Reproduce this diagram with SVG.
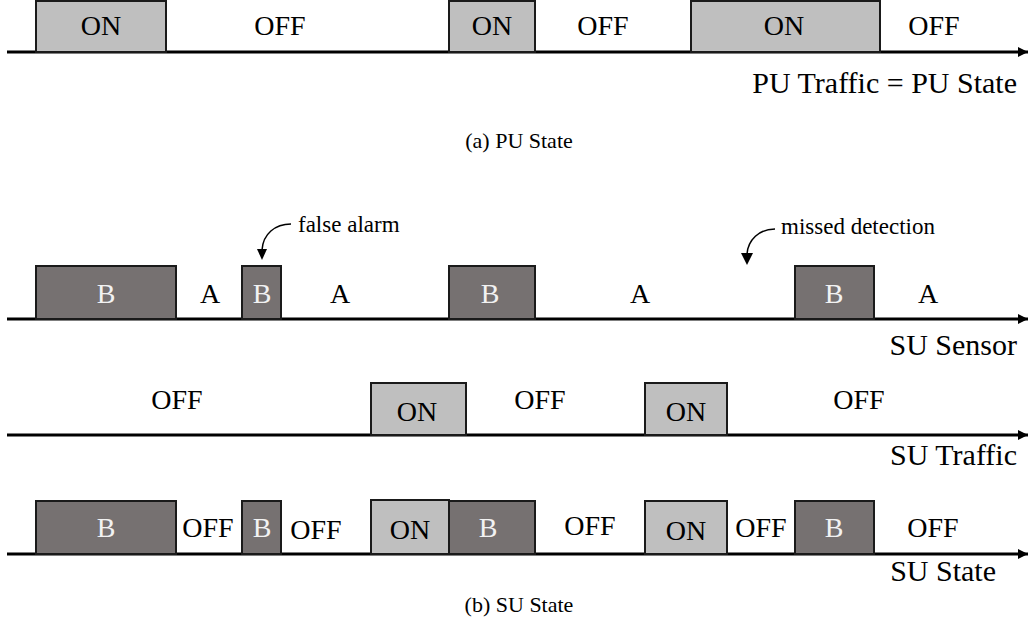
<svg xmlns="http://www.w3.org/2000/svg" width="1036" height="634" viewBox="0 0 1036 634" font-family="Liberation Serif">
<defs>
<style>
.axis{stroke:#000;stroke-width:3;fill:none}
.on{fill:#bfbfbf;stroke:#1a1a1a;stroke-width:2}
.b{fill:#767171;stroke:#1a1a1a;stroke-width:2}
.lbl{font-size:28px;fill:#000;text-anchor:middle}
.lw{font-size:28px;fill:#f2f2f2;text-anchor:middle}
.name{font-size:30px;fill:#000;text-anchor:end}
.cap{font-size:22px;fill:#000;text-anchor:middle}
.note{font-size:23px;fill:#000}
.curve{stroke:#000;stroke-width:1.5;fill:none}
</style>
<marker id="ah" viewBox="0 0 10 10" refX="10" refY="5" markerWidth="10" markerHeight="10" markerUnits="userSpaceOnUse" orient="auto">
<path d="M0,0 L10,5 L0,10 Z" fill="#000"/>
</marker>
</defs>
<rect width="1036" height="634" fill="#fff"/>

<g id="connectors">
<line class="axis" x1="7" y1="52" x2="1028" y2="52" marker-end="url(#ah)"/>
<line class="axis" x1="7" y1="319" x2="1028" y2="319" marker-end="url(#ah)"/>
<line class="axis" x1="7" y1="435" x2="1028" y2="435" marker-end="url(#ah)"/>
<line class="axis" x1="7" y1="554" x2="1028" y2="554" marker-end="url(#ah)"/>
<path class="curve" d="M291,224 C275,224 263,234 262,250"/>
<path d="M257,249 L267,249 L262,260 Z" fill="#000"/>
<path class="curve" d="M775,229 C759,229 748,240 747,254"/>
<path d="M741,253 L753,253 L747,265 Z" fill="#000"/>
</g>

<g id="pu-state" font-family="Liberation Serif">
<rect class="on" x="36" y="1" width="130" height="51"/>
<rect class="on" x="449" y="1" width="86" height="51"/>
<rect class="on" x="691" y="1" width="189" height="51"/>
<text class="lbl" x="101" y="35" font-family="Liberation Serif" style="font-family:'Liberation Serif'">ON</text>
<text class="lbl" x="280" y="35" font-family="Liberation Serif" style="font-family:'Liberation Serif'">OFF</text>
<text class="lbl" x="492" y="35" font-family="Liberation Serif" style="font-family:'Liberation Serif'">ON</text>
<text class="lbl" x="603" y="35" font-family="Liberation Serif" style="font-family:'Liberation Serif'">OFF</text>
<text class="lbl" x="784" y="35" font-family="Liberation Serif" style="font-family:'Liberation Serif'">ON</text>
<text class="lbl" x="934" y="35" font-family="Liberation Serif" style="font-family:'Liberation Serif'">OFF</text>
<text class="name" x="1017" y="93" font-family="Liberation Serif" style="font-family:'Liberation Serif'">PU Traffic = PU State</text>
<text class="cap" x="519" y="148" font-family="Liberation Serif" style="font-family:'Liberation Serif'">(a) PU State</text>
</g>

<g id="su-sensor" font-family="Liberation Serif">
<rect class="b" x="36" y="266" width="140" height="53"/>
<rect class="b" x="242" y="266" width="39" height="53"/>
<rect class="b" x="449" y="266" width="86" height="53"/>
<rect class="b" x="795" y="266" width="79" height="53"/>
<text class="lw" x="106" y="303" font-family="Liberation Serif" style="font-family:'Liberation Serif'">B</text>
<text class="lbl" x="210" y="303" font-family="Liberation Serif" style="font-family:'Liberation Serif'">A</text>
<text class="lw" x="262" y="303" font-family="Liberation Serif" style="font-family:'Liberation Serif'">B</text>
<text class="lbl" x="340" y="303" font-family="Liberation Serif" style="font-family:'Liberation Serif'">A</text>
<text class="lw" x="490" y="303" font-family="Liberation Serif" style="font-family:'Liberation Serif'">B</text>
<text class="lbl" x="640" y="303" font-family="Liberation Serif" style="font-family:'Liberation Serif'">A</text>
<text class="lw" x="834" y="303" font-family="Liberation Serif" style="font-family:'Liberation Serif'">B</text>
<text class="lbl" x="928" y="303" font-family="Liberation Serif" style="font-family:'Liberation Serif'">A</text>
<text class="name" x="1017" y="355" font-family="Liberation Serif" style="font-family:'Liberation Serif'">SU Sensor</text>
</g>

<g id="false-alarm" font-family="Liberation Serif">
<text class="note" x="298" y="232" font-family="Liberation Serif" style="font-family:'Liberation Serif'">false alarm</text>
</g>
<g id="missed-detection" font-family="Liberation Serif">
<text class="note" x="781" y="234" font-family="Liberation Serif" style="font-family:'Liberation Serif'">missed detection</text>
</g>

<g id="su-traffic" font-family="Liberation Serif">
<rect class="on" x="371" y="383" width="95" height="52"/>
<rect class="on" x="645" y="383" width="82" height="52"/>
<text class="lbl" x="177" y="409" font-family="Liberation Serif" style="font-family:'Liberation Serif'">OFF</text>
<text class="lbl" x="417" y="421" font-family="Liberation Serif" style="font-family:'Liberation Serif'">ON</text>
<text class="lbl" x="540" y="409" font-family="Liberation Serif" style="font-family:'Liberation Serif'">OFF</text>
<text class="lbl" x="686" y="421" font-family="Liberation Serif" style="font-family:'Liberation Serif'">ON</text>
<text class="lbl" x="859" y="409" font-family="Liberation Serif" style="font-family:'Liberation Serif'">OFF</text>
<text class="name" x="1017" y="465" font-family="Liberation Serif" style="font-family:'Liberation Serif'">SU Traffic</text>
</g>

<g id="su-state" font-family="Liberation Serif">
<rect class="b" x="36" y="501" width="140" height="53"/>
<rect class="b" x="242" y="501" width="39" height="53"/>
<rect class="on" x="371" y="500" width="78" height="54"/>
<rect class="b" x="449" y="501" width="86" height="53"/>
<rect class="on" x="645" y="501" width="82" height="53"/>
<rect class="b" x="795" y="501" width="79" height="53"/>
<text class="lw" x="106" y="537" font-family="Liberation Serif" style="font-family:'Liberation Serif'">B</text>
<text class="lbl" x="208" y="537" font-family="Liberation Serif" style="font-family:'Liberation Serif'">OFF</text>
<text class="lw" x="262" y="537" font-family="Liberation Serif" style="font-family:'Liberation Serif'">B</text>
<text class="lbl" x="316" y="539" font-family="Liberation Serif" style="font-family:'Liberation Serif'">OFF</text>
<text class="lbl" x="410" y="539" font-family="Liberation Serif" style="font-family:'Liberation Serif'">ON</text>
<text class="lw" x="488" y="537" font-family="Liberation Serif" style="font-family:'Liberation Serif'">B</text>
<text class="lbl" x="590" y="535" font-family="Liberation Serif" style="font-family:'Liberation Serif'">OFF</text>
<text class="lbl" x="686" y="540" font-family="Liberation Serif" style="font-family:'Liberation Serif'">ON</text>
<text class="lbl" x="761" y="537" font-family="Liberation Serif" style="font-family:'Liberation Serif'">OFF</text>
<text class="lw" x="834" y="537" font-family="Liberation Serif" style="font-family:'Liberation Serif'">B</text>
<text class="lbl" x="933" y="537" font-family="Liberation Serif" style="font-family:'Liberation Serif'">OFF</text>
<text class="name" x="996" y="581" font-family="Liberation Serif" style="font-family:'Liberation Serif'">SU State</text>
<text class="cap" x="519" y="612" font-family="Liberation Serif" style="font-family:'Liberation Serif'">(b) SU State</text>
</g>
</svg>
